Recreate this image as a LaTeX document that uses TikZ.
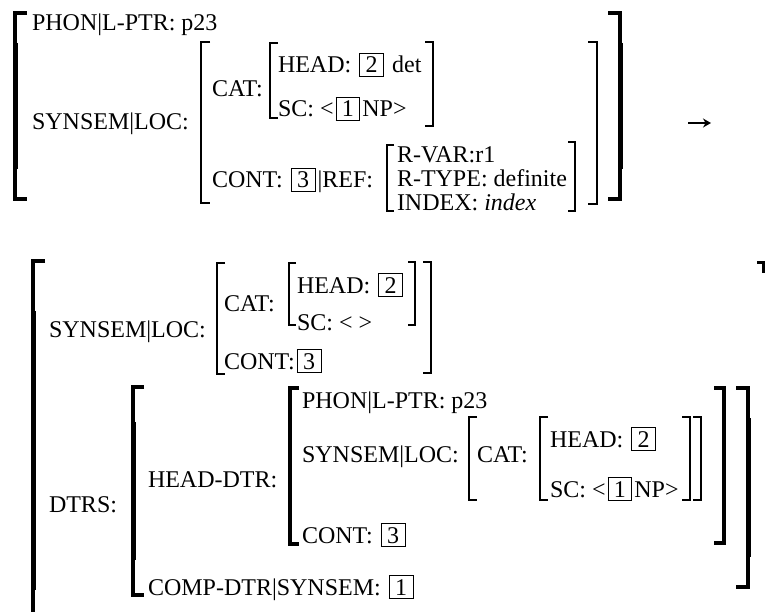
\documentclass[tikz,border=0pt]{standalone}
\usepackage{fontspec}
\setmainfont{Liberation Serif}
\usetikzlibrary{arrows.meta}
\newcommand{\bx}[1]{\kern2pt\relax{\setlength{\fboxsep}{3pt}\setlength{\fboxrule}{0.9pt}\fbox{\kern2.5pt\relax#1\kern2.5pt\relax}}\kern2pt\relax}
% thin / medium bracket: x, top, bottom, width, serif
\newcommand{\lbrk}[5]{\draw[brk, line width=#4] ({#1+#5},#2) -- (#1,#2) -- (#1,#3) -- ({#1+#5},#3);}
\newcommand{\rbrk}[5]{\draw[brk, line width=#4] ({#1-#5},#2) -- (#1,#2) -- (#1,#3) -- ({#1-#5},#3);}
% heavy bracket with thinner end pieces: x, top, bottom, serif, end length
\newcommand{\lbig}[5]{\draw[brk, line width=3.4pt] ({#1+#4},#2) -- (#1,#2) -- (#1,#3) -- ({#1+#4},#3);
  \draw[line width=5pt] (#1,{#2+#5}) -- (#1,{#3-#5});}
\newcommand{\rbig}[5]{\draw[brk, line width=3.4pt] ({#1-#4},#2) -- (#1,#2) -- (#1,#3) -- ({#1-#4},#3);
  \draw[line width=5pt] (#1,{#2+#5}) -- (#1,{#3-#5});}
\begin{document}
\begin{tikzpicture}[x=1pt,y=-1pt,
  every node/.style={inner sep=0pt, outer sep=0pt, anchor=base west, font=\fontsize{24}{28}\selectfont},
  brk/.style={line cap=butt, line join=miter}]
\useasboundingbox (0,0) rectangle (765,612);
% ---------- top structure ----------
\lbig{15}{13}{199}{12}{30}
\node (tphon) at (32,31) {PHON|L-PTR: p23};
\node (tsyn) at (32,130) {SYNSEM|LOC:};
\lbrk{201}{42}{203}{2.8pt}{9}
\node (tcat) at (212,97) {CAT:};
\lbrk{270}{43}{118}{2pt}{8}
\node (thead) at (278,73) {HEAD: \bx{2} det};
\node (tsc) at (278,117) {SC: <\bx{1}NP>};
\rbrk{433}{42}{126}{2pt}{8}
\node (tcont) at (212,188) {CONT: \bx{3}|REF:};
\lbrk{387}{145}{211}{2pt}{7}
\node (trvar) at (397,163) {R-VAR:r1};
\node (trtype) at (397,187) {R-TYPE: definite};
\node (tindex) at (397,211) {INDEX: \textit{index}};
\rbrk{575}{142}{211}{2pt}{7}
\rbrk{597}{42}{204}{2.8pt}{9}
\rbig{620}{13}{199}{12}{30}
\coordinate (a1) at (688,123);
\coordinate (a2) at (711,123);
\draw[line width=1.8pt, -{Stealth[length=8pt,width=9pt]}] (a1) -- (a2);
% ---------- bottom structure ----------
\lbig{33}{261}{640}{12}{50}
\node (bsyn) at (49,337) {SYNSEM|LOC:};
\lbrk{217}{263}{374}{2.5pt}{8}
\node (bcat) at (224,311) {CAT:};
\lbrk{289}{263}{325}{2pt}{7}
\node (bhead) at (297,293) {HEAD: \bx{2}};
\node (bsc) at (297,330) {SC: < >};
\rbrk{415}{262}{325}{2pt}{7}
\rbrk{431}{262}{373}{2.5pt}{8}
\node (bcont) at (224,369) {CONT:\bx{3}};
\draw[line width=3pt] (757,262) -- (763.5,262) -- (763.5,273);
\node (bdtrs) at (49,512) {DTRS:};
\lbig{133}{387}{595}{11}{35}
\node (bhdtr) at (148,487) {HEAD-DTR:};
\lbrk{290}{388}{544}{3.5pt}{9}
\node (bphon) at (302,408) {PHON|L-PTR: p23};
\node (bsyn2) at (302,462) {SYNSEM|LOC:};
\lbrk{469}{417}{500}{2.5pt}{8}
\node (bcat2) at (477,462) {CAT:};
\lbrk{540}{417}{500}{2.5pt}{8}
\node (bhead2) at (550,447) {HEAD: \bx{2}};
\node (bsc2) at (550,497) {SC: <\bx{1}NP>};
\rbrk{690}{417}{500}{2.5pt}{8}
\rbrk{701}{417}{500}{2.5pt}{8}
\node (bcont2) at (302,543) {CONT: \bx{3}};
\rbrk{724}{388}{543}{4pt}{10}
\rbig{748}{388}{587}{12}{30}
\node (bcomp) at (148,595) {COMP-DTR|SYNSEM: \bx{1}};
\end{tikzpicture}
\end{document}
